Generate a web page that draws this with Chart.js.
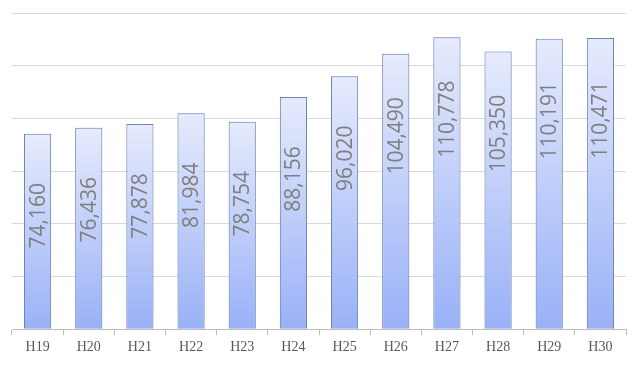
<!DOCTYPE html>
<html>
<head>
<meta charset="utf-8">
<script src="https://cdn.jsdelivr.net/npm/chart.js@4"></script>
<style>
  html, body { margin: 0; padding: 0; background: #fff; }
  #wrap { width: 640px; height: 376px; }
</style>
</head>
<body>
<div id="wrap"><canvas id="myChart"></canvas></div>
<script>
const years = ["H19", "H20", "H21", "H22", "H23", "H24", "H25", "H26", "H27", "H28", "H29", "H30"];
const counts = [74160, 76436, 77878, 81984, 78754, 88156, 96020, 104490, 110778, 105350, 110191, 110471];

function barGradient(context) {
  const chart = context.chart;
  const area = chart.chartArea;
  if (!area) return "#b9c9f9";
  const yScale = chart.scales.y;
  const top = yScale.getPixelForValue(context.raw);
  const g = chart.ctx.createLinearGradient(0, top, 0, area.bottom);
  g.addColorStop(0, "#e6ebfc");
  g.addColorStop(1, "#99b1f7");
  return g;
}

// soft glow round the bars
const barGlow = {
  id: "barGlow",
  beforeDatasetDraw(chart) {
    const ctx = chart.ctx;
    ctx.save();
    ctx.shadowColor = "rgba(150, 175, 240, 0.45)";
    ctx.shadowBlur = 4;
  },
  afterDatasetDraw(chart) {
    chart.ctx.restore();
  }
};

// rotated value labels inside the bars
const valueLabels = {
  id: "valueLabels",
  afterDatasetsDraw(chart) {
    const ctx = chart.ctx;
    const meta = chart.getDatasetMeta(0);
    ctx.save();
    ctx.fillStyle = "#7f7f7f";
    ctx.font = "21px 'Open Sans', sans-serif";
    ctx.textAlign = "center";
    ctx.textBaseline = "middle";
    meta.data.forEach((bar, i) => {
      ctx.save();
      ctx.translate(bar.x + 1, bar.y + 82);
      ctx.rotate(-Math.PI / 2);
      ctx.fillText(counts[i].toLocaleString("en-US"), 0, 0);
      ctx.restore();
    });
    ctx.restore();
  }
};

new Chart(document.getElementById("myChart"), {
  type: "bar",
  data: {
    labels: years,
    datasets: [{
      data: counts,
      backgroundColor: barGradient,
      borderColor: "#667a9e",
      borderWidth: 1,
      barPercentage: 0.53,
      categoryPercentage: 1
    }]
  },
  options: {
    responsive: true,
    maintainAspectRatio: false,
    animation: false,
    layout: { padding: { left: 12, right: 14, top: 13, bottom: 16 } },
    plugins: {
      legend: { display: false },
      tooltip: { enabled: false }
    },
    scales: {
      x: {
        grid: { drawOnChartArea: false, color: "#bfbfbf", tickLength: 6 },
        border: { color: "#bfbfbf" },
        ticks: {
          color: "#595959",
          font: { family: "'Liberation Serif', serif", size: 14 },
          padding: 4
        }
      },
      y: {
        min: 0,
        max: 120000,
        ticks: { display: false, stepSize: 20000 },
        grid: { color: "#d9d9d9", drawTicks: false },
        border: { display: false }
      }
    }
  },
  plugins: [barGlow, valueLabels]
});
</script>
</body>
</html>
